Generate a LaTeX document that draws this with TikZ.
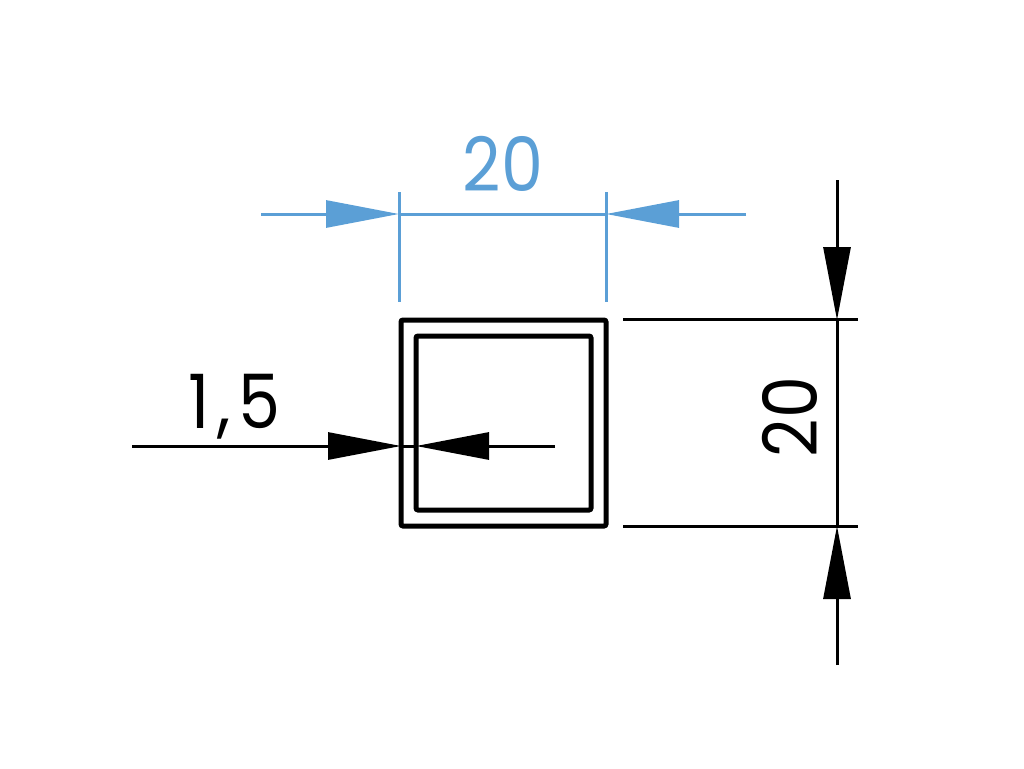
\documentclass[tikz,border=0pt]{standalone}
\usepackage{fontspec}
\setmainfont[FakeStretch=0.89]{Poppins}
\usetikzlibrary{arrows.meta}
\definecolor{dimblue}{HTML}{5B9FD6}
\tikzset{
  dimline/.style={line width=3pt},
  tipped/.style={-{Triangle[length=73pt,width=27pt,sep=0pt]}},
  profile/.style={draw=black,line width=5pt,rounded corners=2pt},
  dimtext/.style={inner sep=0pt,font=\fontsize{75}{75}\selectfont,text height=54pt,text depth=0pt}
}
\begin{document}
\begin{tikzpicture}[x=1pt,y=-1pt]
\useasboundingbox (0,0) rectangle (1024,768);
% profile
\draw[profile] (401,320) rectangle (606,526);
\draw[profile] (416,336) rectangle (591,510);
% named points
\coordinate (tL) at (261,214); \coordinate (tA) at (399,214);
\coordinate (tB) at (606,214); \coordinate (tR) at (746,214);
\coordinate (eA1) at (399,192); \coordinate (eA2) at (399,302);
\coordinate (eB1) at (606,192); \coordinate (eB2) at (606,302);
\coordinate (lL) at (132,446); \coordinate (lA) at (401,446);
\coordinate (lB) at (416,446); \coordinate (lR) at (555,446);
\coordinate (rT) at (837,180); \coordinate (rA) at (837,320);
\coordinate (rB) at (837,526); \coordinate (rE) at (837,665);
\coordinate (xA1) at (623,319); \coordinate (xA2) at (858,319);
\coordinate (xB1) at (623,526); \coordinate (xB2) at (858,526);
% blue dimension
\begin{scope}[dimline,draw=dimblue,fill=dimblue,color=dimblue]
\draw (eA1) -- (eA2);
\draw (eB1) -- (eB2);
\draw (tA) -- (tB);
\draw[tipped] (tL) -- (tA);
\draw[tipped] (tR) -- (tB);
\end{scope}
\node[dimtext,text=dimblue,anchor=base] (w) at (503,191) {20};
% thickness dimension
\draw[dimline] (lA) -- (lB);
\draw[dimline,tipped] (lL) -- (lA);
\draw[dimline,tipped] (lR) -- (lB);
\node[dimtext,anchor=base] (t) at (234.5,428) {1\kern8pt,\kern8pt5};
% height dimension
\draw[dimline] (xA1) -- (xA2);
\draw[dimline] (xB1) -- (xB2);
\draw[dimline] (rA) -- (rB);
\draw[dimline,tipped] (rT) -- (rA);
\draw[dimline,tipped] (rE) -- (rB);
\node[dimtext,rotate=90,anchor=base] (h) at (817,417) {20};
\end{tikzpicture}
\end{document}
